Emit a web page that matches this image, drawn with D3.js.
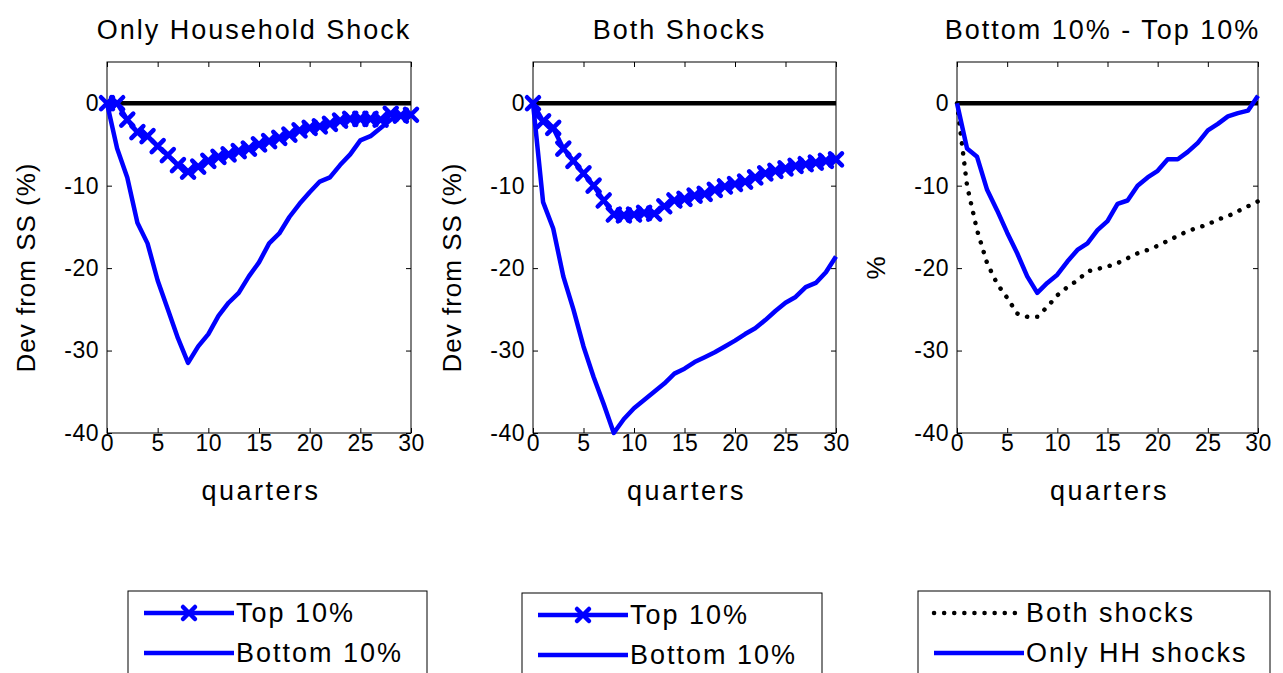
<!DOCTYPE html>
<html>
<head>
<meta charset="utf-8">
<script src="https://d3js.org/d3.v7.min.js"></script>
<style>
  body { margin: 0; background: #fff; }
  text { font-family: "Liberation Sans", Arial, sans-serif; fill: #000; }
</style>
</head>
<body>
<svg id="chart" width="1283" height="673"></svg>
<script>
var quarters = d3.range(0, 31);
var xTicks = [0, 5, 10, 15, 20, 25, 30];
var yTicks = [0, -10, -20, -30, -40];

var hhTop = [0, 0, -2, -3.5, -4, -5.2, -6.3, -7.5, -8.3, -7.7, -7, -6.5, -6.2, -5.8, -5.5, -5, -4.6, -4.2, -3.8, -3.3, -3, -2.8, -2.5, -2.1, -1.9, -1.9, -1.9, -2, -1.3, -1.5, -1.4];
var hhBottom = [0, -5.5, -9, -14.5, -17, -21.5, -25, -28.5, -31.5, -29.5, -28, -25.8, -24.2, -23, -21, -19.3, -17, -15.8, -13.8, -12.2, -10.8, -9.5, -9, -7.5, -6.2, -4.5, -4, -3, -2, -1.6, -1.5];
var bothTop = [0, -2.2, -3, -5.5, -7, -8.5, -10, -11.8, -13.5, -13.6, -13.5, -13.3, -13.4, -12.5, -11.8, -11.6, -11.2, -11, -10.5, -10.1, -9.8, -9.5, -9, -8.5, -8.2, -7.9, -7.6, -7.4, -7.2, -7, -6.8];
var bothBottom = [0, -12, -15.2, -21, -25, -29.5, -33.2, -36.5, -40, -38.3, -37, -36, -35, -34, -32.8, -32.2, -31.4, -30.8, -30.2, -29.5, -28.8, -28, -27.3, -26.3, -25.2, -24.2, -23.5, -22.3, -21.8, -20.5, -18.6];
var gapBoth = [0, -10, -15.4, -19.4, -21.9, -23.6, -25.5, -25.9, -25.9, -24.7, -23.3, -22.3, -21.5, -20.4, -20.1, -19.8, -19.4, -18.8, -18.2, -17.8, -17.3, -16.7, -16.1, -15.5, -15.1, -14.7, -14.1, -13.7, -13.1, -12.5, -11.9];
var gapHH = [0, -5.5, -6.5, -10.5, -13, -15.7, -18.2, -21, -23, -21.8, -20.8, -19.2, -17.8, -17, -15.4, -14.3, -12.2, -11.8, -10, -9, -8.2, -6.8, -6.8, -5.9, -4.8, -3.3, -2.5, -1.6, -1.2, -0.9, 0.9];

var panels = [
  { title: "Only Household Shock", ylabel: "Dev from SS (%)", left: 107, right: 411,
    series: [{ v: hhTop, style: "cross" }, { v: hhBottom, style: "solid" }],
    legend: { x: 128, y: 591, w: 299, items: [["Top 10%", "cross"], ["Bottom 10%", "solid"]] } },
  { title: "Both Shocks", ylabel: "Dev from SS (%)", left: 533, right: 836,
    series: [{ v: bothTop, style: "cross" }, { v: bothBottom, style: "solid" }],
    legend: { x: 522, y: 593, w: 300, items: [["Top 10%", "cross"], ["Bottom 10%", "solid"]] } },
  { title: "Bottom 10% - Top 10%", ylabel: "%", left: 957, right: 1258,
    series: [{ v: gapBoth, style: "dot" }, { v: gapHH, style: "solid" }],
    legend: { x: 918, y: 591, w: 352, items: [["Both shocks", "dot"], ["Only HH shocks", "solid"]] } }
];

var svg = d3.select("#chart");
var plotTop = 62, plotBottom = 433;
var y = d3.scaleLinear().domain([-40, 5]).range([plotBottom, plotTop]);

panels.forEach(function (p) {
  var x = d3.scaleLinear().domain([0, 30]).range([p.left, p.right]);
  var g = svg.append("g");

  g.append("rect").attr("x", p.left).attr("y", plotTop)
    .attr("width", p.right - p.left).attr("height", plotBottom - plotTop)
    .attr("fill", "none").attr("stroke", "#000").attr("stroke-width", 1);

  var ax = g.append("g").attr("transform", "translate(0," + plotBottom + ")")
    .call(d3.axisBottom(x).tickValues(xTicks).tickSizeInner(-5).tickSizeOuter(0).tickPadding(4).tickFormat(String));
  var axT = g.append("g").attr("transform", "translate(0," + plotTop + ")")
    .call(d3.axisTop(x).tickValues(xTicks).tickSizeInner(-5).tickSizeOuter(0).tickFormat(""));
  var ay = g.append("g").attr("transform", "translate(" + p.left + ",0)")
    .call(d3.axisLeft(y).tickValues(yTicks).tickSizeInner(-5).tickSizeOuter(0).tickPadding(8).tickFormat(String));
  var ayR = g.append("g").attr("transform", "translate(" + p.right + ",0)")
    .call(d3.axisRight(y).tickValues(yTicks).tickSizeInner(-5).tickSizeOuter(0).tickFormat(""));
  [ax, axT, ay, ayR].forEach(function (a) {
    a.select(".domain").remove();
    a.selectAll("text").style("font-size", "23px").style("letter-spacing", "0.5px")
      .style("font-family", "Liberation Sans, Arial, sans-serif");
  });
  ax.selectAll("text").attr("dy", "0.6em");

  g.append("text").attr("x", (p.left + p.right) / 2 - 5).attr("y", 39)
    .attr("text-anchor", "middle").style("font-size", "27px").style("letter-spacing", "2px").text(p.title);
  g.append("text").attr("x", (p.left + p.right) / 2 + 2).attr("y", 500)
    .attr("text-anchor", "middle").style("font-size", "27px").style("letter-spacing", "2.5px").text("quarters");
  g.append("text").attr("transform", "translate(" + (p.left - 72) + "," + ((plotTop + plotBottom) / 2 + 20) + ") rotate(-90)")
    .attr("text-anchor", "middle").style("font-size", "26px").style("letter-spacing", "1px").text(p.ylabel);

  // zero line
  g.append("line").attr("x1", x(0)).attr("x2", x(30)).attr("y1", y(0)).attr("y2", y(0))
    .attr("stroke", "#000").attr("stroke-width", 4.5);

  var line = d3.line().x(function (d, i) { return x(quarters[i]); }).y(function (d) { return y(d); });

  p.series.forEach(function (s) {
    if (s.style === "dot") {
      g.append("path").attr("d", line(s.v)).attr("fill", "none").attr("stroke", "#000")
        .attr("stroke-width", 4.5).attr("stroke-linecap", "round").attr("stroke-dasharray", "0.1 10");
      return;
    }
    g.append("path").attr("d", line(s.v)).attr("fill", "none").attr("stroke", "#0000ff")
      .attr("stroke-width", 4.5).attr("stroke-linejoin", "round");
    if (s.style === "cross") {
      g.selectAll(null).data(s.v).enter().append("path")
        .attr("transform", function (d, i) { return "translate(" + x(quarters[i]) + "," + y(d) + ")"; })
        .attr("d", "M-6,-6L6,6M-6,6L6,-6")
        .attr("stroke", "#0000ff").attr("stroke-width", 4.5).attr("stroke-linecap", "round");
    }
  });

  // legend
  var L = p.legend;
  var lg = svg.append("g");
  lg.append("rect").attr("x", L.x).attr("y", L.y).attr("width", L.w).attr("height", 100)
    .attr("fill", "#fff").attr("stroke", "#000").attr("stroke-width", 1);
  L.items.forEach(function (it, i) {
    var cy = L.y + 22 + i * 40;
    var x1 = L.x + 16, x2 = L.x + 106;
    var seg = lg.append("line").attr("x1", x1).attr("x2", x2).attr("y1", cy).attr("y2", cy)
      .attr("stroke-width", 4.5);
    if (it[1] === "dot") {
      seg.attr("stroke", "#000").attr("stroke-linecap", "round").attr("stroke-dasharray", "0.1 10");
    } else {
      seg.attr("stroke", "#0000ff");
    }
    if (it[1] === "cross") {
      lg.append("path").attr("transform", "translate(" + ((x1 + x2) / 2) + "," + cy + ")")
        .attr("d", "M-6,-6L6,6M-6,6L6,-6").attr("stroke", "#0000ff")
        .attr("stroke-width", 4.5).attr("stroke-linecap", "round");
    }
    lg.append("text").attr("x", x2 + 2).attr("y", cy + 9).style("font-size", "27px").style("letter-spacing", "2px").text(it[0]);
  });
});
</script>
</body>
</html>
